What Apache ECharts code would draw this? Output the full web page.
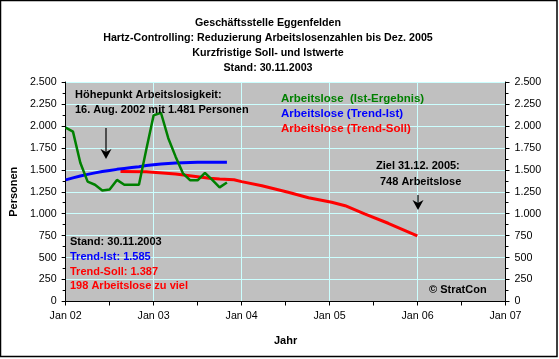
<!DOCTYPE html>
<html><head><meta charset="utf-8">
<script src="https://cdn.jsdelivr.net/npm/echarts@6/dist/echarts.min.js"></script>
<style>html,body{margin:0;padding:0;background:#fff}#c{width:559px;height:359px}</style>
</head><body><div id="c"></div>
<script>
// ---- data ----
const istDates = ['2002-01','2002-02','2002-03','2002-04','2002-05','2002-06','2002-07','2002-08','2002-09','2002-10','2002-11','2002-12',
  '2003-01','2003-02','2003-03','2003-04','2003-05','2003-06','2003-07','2003-08','2003-09','2003-10','2003-11'];
const istValues = [1980,1935,1580,1365,1330,1265,1275,1385,1330,1330,1330,1730,
  2120,2150,1860,1650,1460,1380,1380,1465,1385,1300,1355];
const trendIstDates = istDates;
const trendIstValues = [1385,1408,1430,1448,1465,1480,1493,1505,1515,1525,1535,1548,
  1558,1566,1573,1578,1581,1583,1585,1586,1587,1587,1587];
const sollDates = ['2002-08-16','2002-12','2003-04','2003-08-20','2003-10','2003-11-30','2004-01','2004-03-25','2004-07-12','2004-10-05','2005-01-10','2005-03-05','2005-05-25','2005-09-01','2005-12-31'];
const sollValues = [1481,1479,1452,1403,1395,1387,1365,1319,1244,1182,1130,1091,997,891,748];
const seriesNames = ['Arbeitslose  (Ist-Ergebnis)','Arbeitslose (Trend-Ist)','Arbeitslose (Trend-Soll)'];
const seriesColors = ['#008000','#0000ff','#ff0000'];
const titleLines = ['Geschäftsstelle Eggenfelden','Hartz-Controlling: Reduzierung Arbeitslosenzahlen bis Dez. 2005','Kurzfristige Soll- und Istwerte','Stand: 30.11.2003'];
const xStartYear = 2002, xEndYear = 2007;
const yMin = 0, yMax = 2500, yStep = 250;

// ---- helpers ----
function toMonth(s){
  const p = s.split('-').map(Number);
  const y = p[0], m = p[1], d = p[2] || 1;
  const dim = new Date(y, m, 0).getDate();
  return (y - xStartYear) * 12 + (m - 1) + (d - 1) / dim;
}
function pairs(ds, vs){ return ds.map((d,i)=>[toMonth(d), vs[i]]); }
function fmtNum(v){ return String(v).replace(/\B(?=(\d{3})+(?!\d))/g,'.'); }

const FF = '"Liberation Sans", Arial, sans-serif';
const chart = echarts.init(document.getElementById('c'), null, {renderer:'canvas'});

const gridL = 62, gridT = 82, gridR = 53.5, gridB = 57.5;

function txt(x, y, text, color, size, align){
  return {type:'text', x:x, y:y, z:100, silent:true,
    style:{text:text, fill:color, font:'bold '+(size||11)+'px '+FF, textAlign:align||'left', textVerticalAlign:'middle'}};
}
function arrow(x, y1, y2){
  return [
    {type:'line', z:100, silent:true, shape:{x1:x, y1:y1, x2:x, y2:y2-6}, style:{stroke:'#000', lineWidth:1.2}},
    {type:'polygon', z:100, silent:true, shape:{points:[[x-5.5,y2-10],[x,y2-7],[x+5.5,y2-10],[x,y2]]}, style:{fill:'#000'}}
  ];
}

const graphics = [
  {type:'rect', z:0, silent:true, shape:{x:0.5, y:0.5, width:556.5, height:356}, style:{fill:'none', stroke:'#000', lineWidth:1.5}}
];
titleLines.forEach((t,i)=>graphics.push(txt(268, 22.7 + i*15, t, '#000', 10.7, 'center')));
graphics.push(txt(75, 94.5, 'Höhepunkt Arbeitslosigkeit:', '#000', 11));
graphics.push(txt(75, 109.5, '16. Aug. 2002 mit 1.481 Personen', '#000', 11));
graphics.push(...arrow(106, 128, 159));
graphics.push(txt(376, 166, 'Ziel 31.12. 2005:', '#000', 11));
graphics.push(txt(380, 182, '748 Arbeitslose', '#000', 11));
graphics.push(...arrow(418, 195, 210));
graphics.push(txt(70, 242, 'Stand: 30.11.2003', '#000', 11));
graphics.push(txt(70, 256.5, 'Trend-Ist: 1.585', '#0000ff', 11));
graphics.push(txt(70, 271.5, 'Trend-Soll: 1.387', '#ff0000', 11));
graphics.push(txt(70, 286, '198 Arbeitslose zu viel', '#ff0000', 11));
graphics.push(txt(429, 290, '© StratCon', '#000', 11));

const yAxisCommon = {
  type:'value', min:yMin, max:yMax, interval:yStep,
  axisLine:{show:true, lineStyle:{color:'#000', width:1}},
  axisTick:{show:true, length:4, lineStyle:{color:'#000'}},
  minorTick:{show:true, splitNumber:2, length:3, lineStyle:{color:'#000'}},
  axisLabel:{color:'#000', fontSize:10.7, fontFamily:FF, formatter:fmtNum, margin:9}
};

chart.setOption({
  animation:false,
  textStyle:{fontFamily:FF},
  grid:{left:gridL, top:gridT, right:gridR, bottom:gridB, show:true, backgroundColor:'#c0c0c0', borderWidth:0},
  legend:{
    orient:'vertical', left:271, top:86.8, itemWidth:0, itemHeight:0, itemGap:0, icon:'rect',
    selectedMode:false,
    textStyle:{fontSize:11.5, fontWeight:'bold', fontFamily:FF, lineHeight:15},
    data:seriesNames.map((n,i)=>({name:n, textStyle:{color:seriesColors[i]}}))
  },
  xAxis:{
    type:'value', min:0, max:(xEndYear - xStartYear)*12, interval:12,
    name:'Jahr', nameLocation:'middle', nameGap:34,
    nameTextStyle:{fontWeight:'bold', fontSize:11, color:'#000', fontFamily:FF},
    axisLine:{show:true, onZero:false, lineStyle:{color:'#000', width:1}},
    axisTick:{show:true, length:4, lineStyle:{color:'#000'}},
    minorTick:{show:true, splitNumber:2, length:4, lineStyle:{color:'#000'}},
    splitLine:{show:true, lineStyle:{color:'#ccffff', width:1}},
    axisLabel:{color:'#000', fontSize:10.7, fontFamily:FF, margin:9,
      formatter:v=>'Jan ' + String((xStartYear + v/12) % 100).padStart(2,'0')}
  },
  yAxis:[
    Object.assign({}, yAxisCommon, {position:'left', name:'Personen', nameLocation:'middle', nameGap:37,
      nameTextStyle:{fontWeight:'bold', fontSize:11, color:'#000', fontFamily:FF},
      splitLine:{show:true, lineStyle:{color:'#ccffff', width:1}}}),
    Object.assign({}, yAxisCommon, {position:'right', splitLine:{show:false}})
  ],
  series:[
    {name:seriesNames[0], type:'line', data:pairs(istDates, istValues), showSymbol:false, symbol:'none', z:4,
      lineStyle:{color:seriesColors[0], width:2.5}, itemStyle:{color:seriesColors[0]}},
    {name:seriesNames[1], type:'line', data:pairs(trendIstDates, trendIstValues), showSymbol:false, symbol:'none', z:3,
      lineStyle:{color:seriesColors[1], width:3}, itemStyle:{color:seriesColors[1]}},
    {name:seriesNames[2], type:'line', data:pairs(sollDates, sollValues), showSymbol:false, symbol:'none', z:2,
      lineStyle:{color:seriesColors[2], width:3}, itemStyle:{color:seriesColors[2]}}
  ],
  graphic:graphics
});
</script></body></html>
